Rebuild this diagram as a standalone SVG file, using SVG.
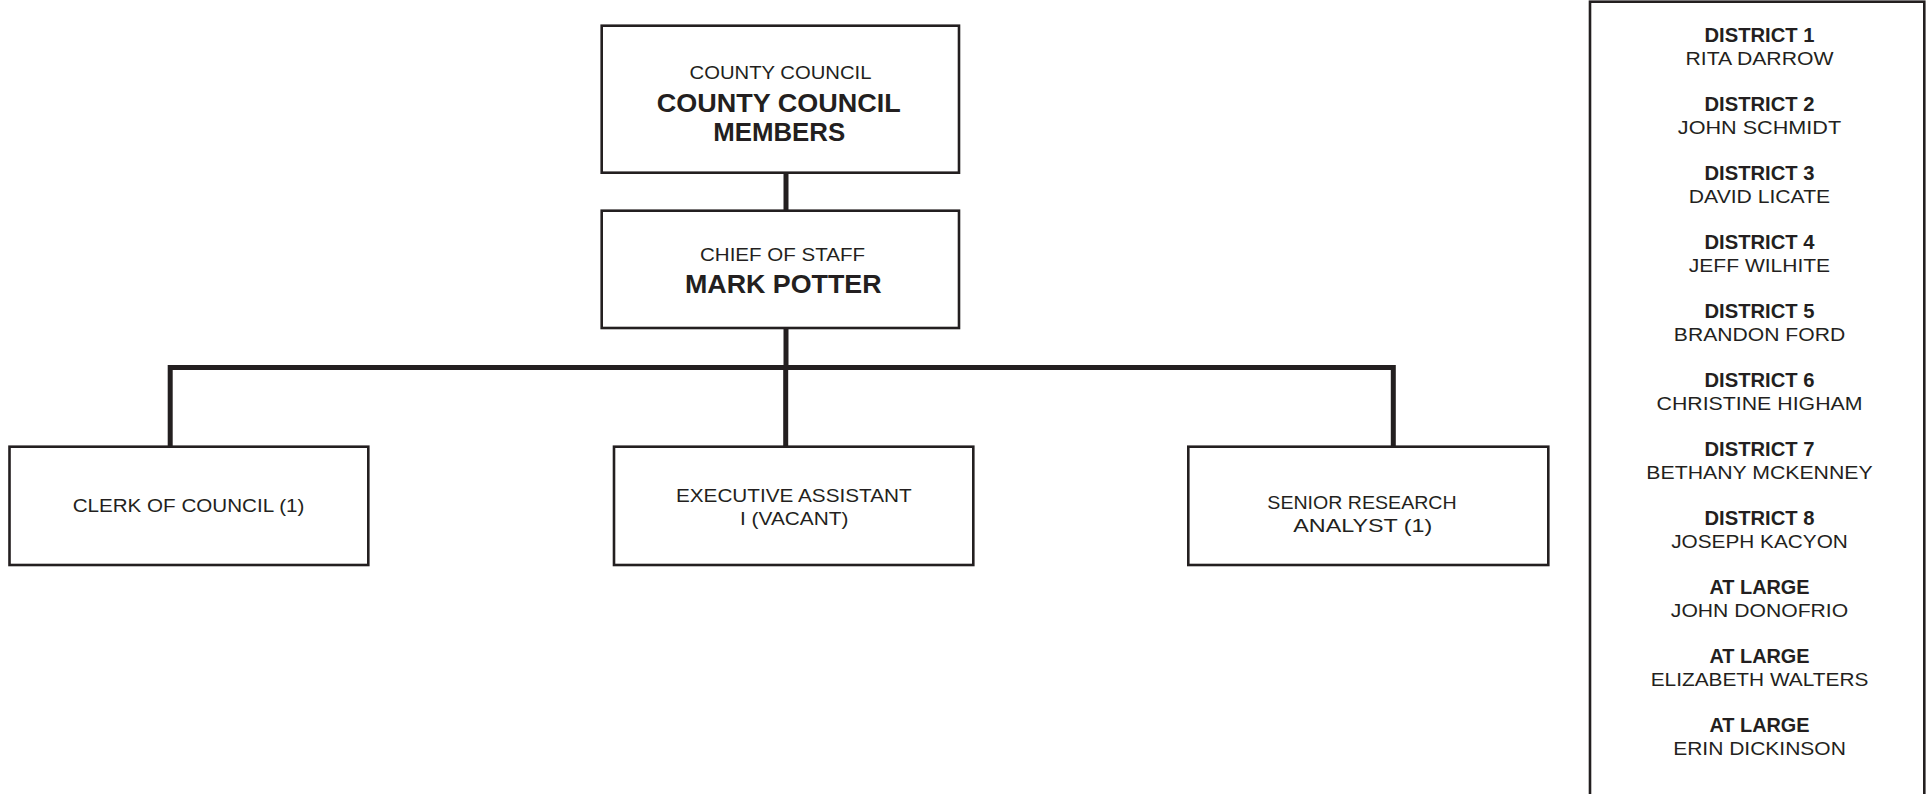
<svg xmlns="http://www.w3.org/2000/svg" width="1931" height="794" viewBox="0 0 1931 794">
<style>
.box{fill:#fff;stroke:#231f20;stroke-width:2.6}
.con{fill:none;stroke:#231f20;stroke-width:5;stroke-linejoin:miter;stroke-linecap:butt}
text{font-family:"Liberation Sans",Arial,sans-serif;fill:#231f20;text-anchor:middle}
.r{font-size:19.2px}
.b{font-weight:bold;font-size:25.5px}
.db{font-weight:bold;font-size:20px}
.dn{font-size:19.2px}
</style>
<rect width="1931" height="794" fill="#fff"/>
<g id="connectors">
<path class="con" d="M786 172V211"/>
<path class="con" d="M786 328V367.5"/>
<path class="con" d="M170.2 447V367.5H1393.3V447"/>
<path class="con" d="M785.7 367.5V447"/>
</g>
<g id="council">
<rect class="box" x="601.7" y="25.7" width="357.3" height="147"/>
<text class="r" x="780.5" y="78.5" textLength="182" lengthAdjust="spacingAndGlyphs">COUNTY COUNCIL</text>
<text class="b" x="778.7" y="111.7" textLength="244" lengthAdjust="spacingAndGlyphs">COUNTY COUNCIL</text>
<text class="b" x="779.2" y="141" textLength="132" lengthAdjust="spacingAndGlyphs">MEMBERS</text>
</g>
<g id="chief">
<rect class="box" x="601.7" y="210.7" width="357.3" height="117.3"/>
<text class="r" x="782.5" y="261" textLength="165" lengthAdjust="spacingAndGlyphs">CHIEF OF STAFF</text>
<text class="b" x="783.3" y="292.5" textLength="196.7" lengthAdjust="spacingAndGlyphs">MARK POTTER</text>
</g>
<g id="clerk">
<rect class="box" x="9.5" y="446.7" width="358.8" height="118.3"/>
<text class="r" x="188.5" y="511.5" textLength="231.7" lengthAdjust="spacingAndGlyphs">CLERK OF COUNCIL (1)</text>
</g>
<g id="exec">
<rect class="box" x="614" y="446.7" width="359.3" height="118.3"/>
<text class="r" x="793.8" y="501.5" textLength="235.7" lengthAdjust="spacingAndGlyphs">EXECUTIVE ASSISTANT</text>
<text class="r" x="794.2" y="525.3" textLength="108.3" lengthAdjust="spacingAndGlyphs">I (VACANT)</text>
</g>
<g id="senior">
<rect class="box" x="1188.3" y="446.7" width="360" height="118.3"/>
<text class="r" x="1362" y="508.5" textLength="189.3" lengthAdjust="spacingAndGlyphs">SENIOR RESEARCH</text>
<text class="r" x="1362.8" y="531.5" textLength="139" lengthAdjust="spacingAndGlyphs">ANALYST (1)</text>
</g>
<g id="members">
<rect class="box" x="1590" y="1.7" width="334.3" height="800"/>
<text class="db" x="1759.5" y="41.7" textLength="110" lengthAdjust="spacingAndGlyphs">DISTRICT 1</text>
<text class="dn" x="1759.5" y="65" textLength="148" lengthAdjust="spacingAndGlyphs">RITA DARROW</text>
<text class="db" x="1759.5" y="110.7" textLength="110" lengthAdjust="spacingAndGlyphs">DISTRICT 2</text>
<text class="dn" x="1759.5" y="134" textLength="163.3" lengthAdjust="spacingAndGlyphs">JOHN SCHMIDT</text>
<text class="db" x="1759.5" y="179.7" textLength="110" lengthAdjust="spacingAndGlyphs">DISTRICT 3</text>
<text class="dn" x="1759.5" y="203" textLength="141.3" lengthAdjust="spacingAndGlyphs">DAVID LICATE</text>
<text class="db" x="1759.5" y="248.7" textLength="110" lengthAdjust="spacingAndGlyphs">DISTRICT 4</text>
<text class="dn" x="1759.5" y="272" textLength="141.3" lengthAdjust="spacingAndGlyphs">JEFF WILHITE</text>
<text class="db" x="1759.5" y="317.7" textLength="110" lengthAdjust="spacingAndGlyphs">DISTRICT 5</text>
<text class="dn" x="1759.5" y="341" textLength="171.3" lengthAdjust="spacingAndGlyphs">BRANDON FORD</text>
<text class="db" x="1759.5" y="386.7" textLength="110" lengthAdjust="spacingAndGlyphs">DISTRICT 6</text>
<text class="dn" x="1759.5" y="410" textLength="206" lengthAdjust="spacingAndGlyphs">CHRISTINE HIGHAM</text>
<text class="db" x="1759.5" y="455.7" textLength="110" lengthAdjust="spacingAndGlyphs">DISTRICT 7</text>
<text class="dn" x="1759.5" y="479" textLength="226.3" lengthAdjust="spacingAndGlyphs">BETHANY MCKENNEY</text>
<text class="db" x="1759.5" y="524.7" textLength="110" lengthAdjust="spacingAndGlyphs">DISTRICT 8</text>
<text class="dn" x="1759.5" y="548" textLength="176.7" lengthAdjust="spacingAndGlyphs">JOSEPH KACYON</text>
<text class="db" x="1759.5" y="593.7" textLength="100" lengthAdjust="spacingAndGlyphs">AT LARGE</text>
<text class="dn" x="1759.5" y="617" textLength="177.3" lengthAdjust="spacingAndGlyphs">JOHN DONOFRIO</text>
<text class="db" x="1759.5" y="662.7" textLength="100" lengthAdjust="spacingAndGlyphs">AT LARGE</text>
<text class="dn" x="1759.5" y="686" textLength="217.7" lengthAdjust="spacingAndGlyphs">ELIZABETH WALTERS</text>
<text class="db" x="1759.5" y="731.7" textLength="100" lengthAdjust="spacingAndGlyphs">AT LARGE</text>
<text class="dn" x="1759.5" y="755" textLength="172.7" lengthAdjust="spacingAndGlyphs">ERIN DICKINSON</text>
</g>
</svg>
